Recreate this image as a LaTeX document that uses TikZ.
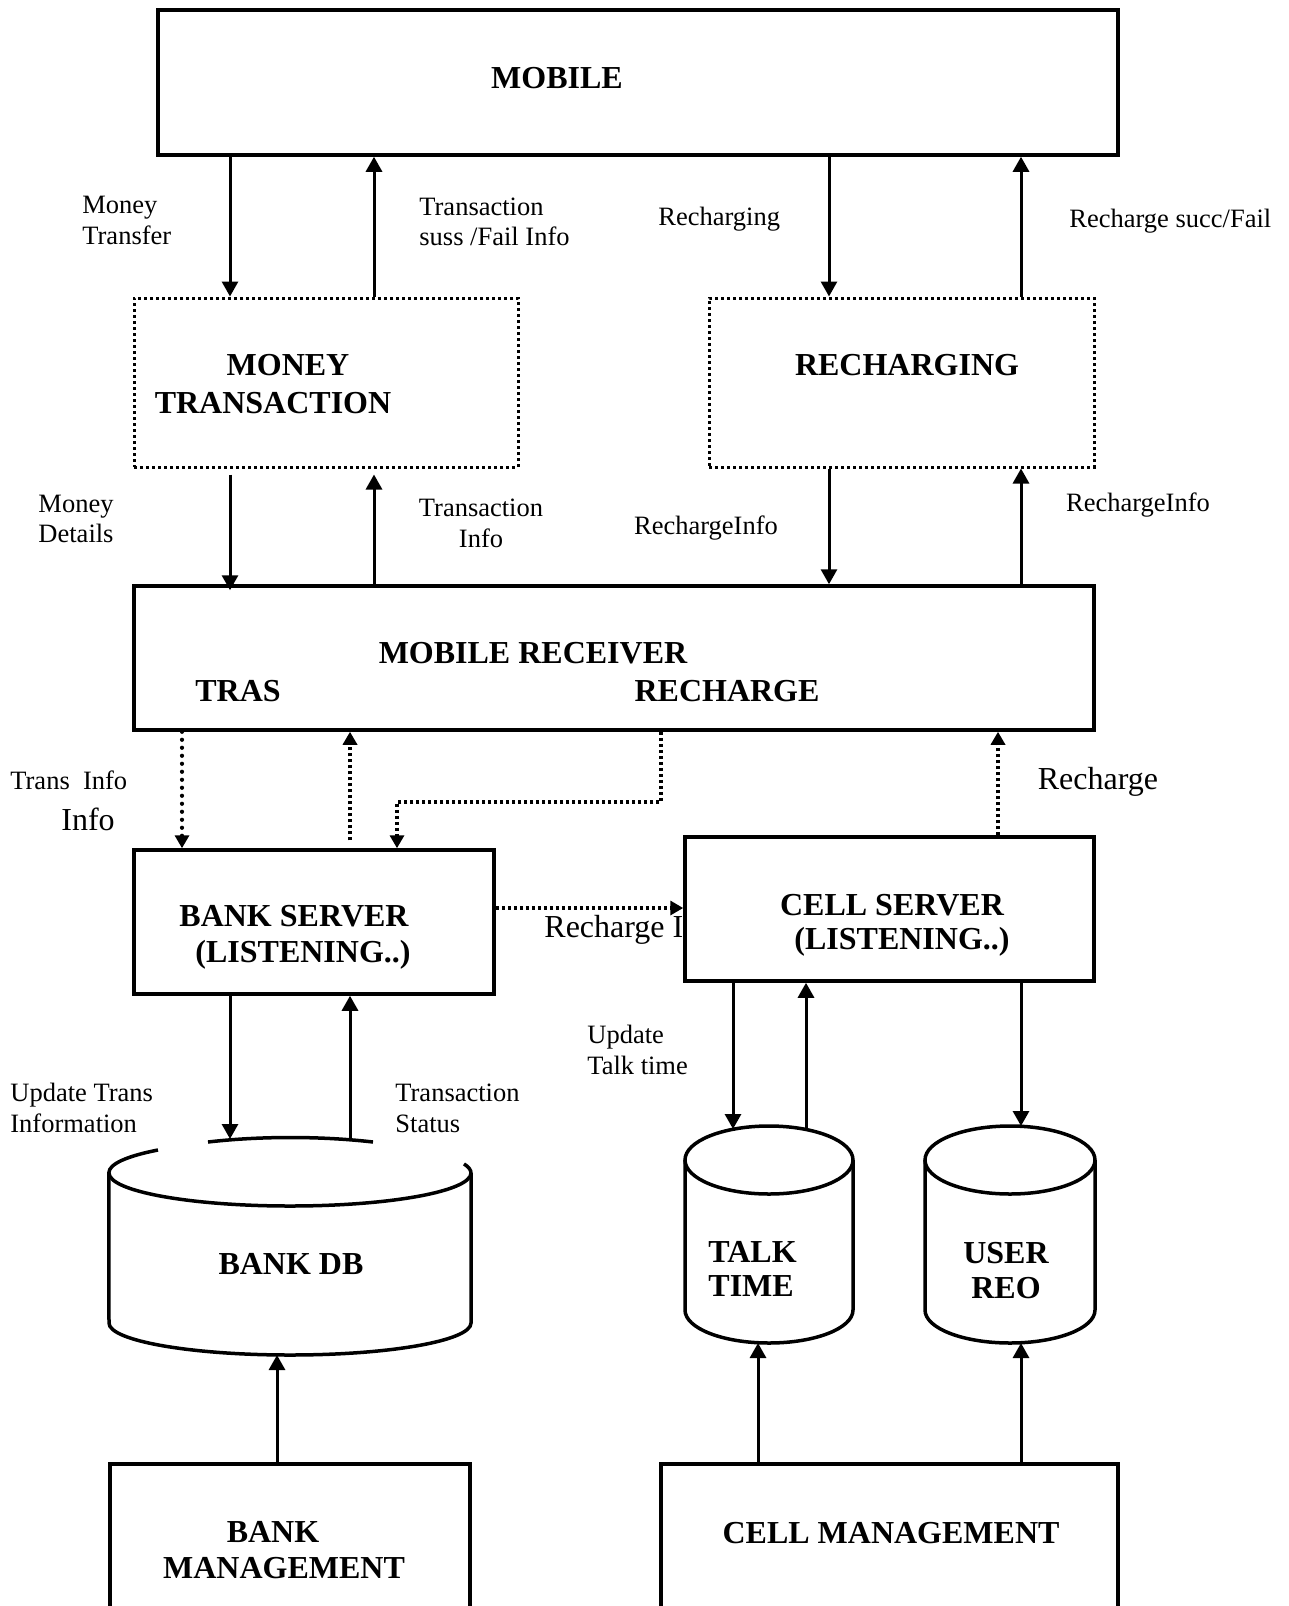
\documentclass[tikz,border=0pt]{standalone}
\usepackage{fontspec}
\setmainfont{Liberation Serif}
\usetikzlibrary{arrows.meta,calc}
\begin{document}
\begin{tikzpicture}[x=0.5pt,y=-0.5pt,
  box/.style={draw, line width=1.75pt, inner sep=0pt, fill=white},
  dbox/.style={draw, line width=1.5pt, dash pattern=on 1.5pt off 1.5pt, inner sep=0pt},
  arr/.style={line width=1.5pt, -{Triangle[length=7.5pt,width=8pt]}},
  darr/.style={line width=1.75pt, dash pattern=on 1.5pt off 1.5pt, -{Triangle[length=6.5pt,width=7pt]}},
  rdarr/.style={line width=2.1pt, line cap=round, dash pattern=on 0pt off 4pt, -{Triangle[length=6.5pt,width=7pt,line join=miter]}},
  cyl/.style={line width=1.75pt},
  btxt/.style={font=\fontsize{16}{19}\selectfont\bfseries, inner sep=0pt, align=center},
  lbl/.style={font=\fontsize{13.25}{15.35}\selectfont, inner sep=0pt, align=left},
  clbl/.style={font=\fontsize{13.25}{15.35}\selectfont, inner sep=0pt, align=center},
  big/.style={font=\fontsize{16}{19}\selectfont, inner sep=0pt}]

\useasboundingbox (0,0) rectangle (1289,1606);
\clip (0,0) rectangle (1289,1606);

% ---- boxes ----
\node[box, minimum width=480pt, minimum height=72.5pt] (mobile) at (638,82.5) {};
\node[dbox, minimum width=192pt, minimum height=84.5pt] (mt) at (326,382.5) {};
\node[dbox, minimum width=192.5pt, minimum height=84.5pt] (rc) at (901.5,382.5) {};
\node[box, minimum width=480pt, minimum height=72pt] (mr) at (614,658) {};
\node[box, minimum width=180pt, minimum height=72pt] (bs) at (314,922) {};
\node[box, minimum width=180pt, minimum height=88pt] (bm) at (290,1552) {};
\node[box, minimum width=228.5pt, minimum height=88pt] (cm) at (889.5,1552) {};

% label partly hidden by cell server
\node[big, anchor=west] (lrcinfo) at (544,930) {Recharge Info};
\node[box, minimum width=204.5pt, minimum height=72pt] (cs) at (889.5,909) {};

% ---- cylinders ----
% bank db
\draw[cyl] (158,1150) arc[start angle=223.2, end angle=180, x radius=181, y radius=33]
  -- (109,1323) arc[start angle=180, end angle=0, x radius=181, y radius=32]
  -- (471,1173) arc[start angle=360, end angle=344, x radius=181, y radius=33];
\draw[cyl] (109,1173) arc[start angle=180, end angle=0, x radius=181, y radius=33];
\draw[cyl] (208,1142) .. controls (260,1136) and (321,1136) .. (373,1142);
% talk time
\draw[cyl] (685,1160) -- (685,1310) arc[start angle=180, end angle=0, x radius=84, y radius=33] -- (853,1160);
\draw[cyl] (769,1160) ellipse[x radius=84, y radius=34];
% user reo
\draw[cyl] (925,1160) -- (925,1310) arc[start angle=180, end angle=0, x radius=85, y radius=33] -- (1095,1160);
\draw[cyl] (1010,1160) ellipse[x radius=85, y radius=34];

% ---- column coordinates ----
\coordinate (xa) at (230,0);
\coordinate (xb) at (374,0);
\coordinate (xc) at (829,0);
\coordinate (xd) at (1021,0);
\coordinate (xe) at (182,0);
\coordinate (xf) at (350,0);
\coordinate (xh) at (397,0);
\coordinate (xi) at (998,0);
\coordinate (xj) at (733,0);
\coordinate (xk) at (806,0);
\coordinate (turn) at (661,802);
\coordinate (yrow) at (0,908);
\coordinate (bdbin) at (230,1139);
\coordinate (bdbout) at (350,1140);
\coordinate (ttin) at (733,1129);
\coordinate (ttout) at (806,1130);
\coordinate (urin) at (1021,1126);
\coordinate (bdbbot) at (277,1355);
\coordinate (ttbot) at (758,1343);
\coordinate (urbot) at (1021,1343);

% ---- connectors ----
\draw[arr] (mobile.south -| xa) -- (mt.north -| xa);
\draw[arr] (mt.north -| xb) -- (mobile.south -| xb);
\draw[arr] (mobile.south -| xc) -- (rc.north -| xc);
\draw[arr] (rc.north -| xd) -- (mobile.south -| xd);
\draw[arr, shorten <=3pt, shorten >=-3pt] (mt.south -| xa) -- (mr.north -| xa);
\draw[arr, shorten >=3pt] (mr.north -| xb) -- (mt.south -| xb);
\draw[arr] (rc.south -| xc) -- (mr.north -| xc);
\draw[arr] (mr.north -| xd) -- (rc.south -| xd);

\draw[rdarr] (mr.south -| xe) -- (bs.north -| xe);
\draw[darr, shorten <=4pt] (bs.north -| xf) -- (mr.south -| xf);
\draw[darr] (mr.south -| turn) -- (turn) -| (bs.north -| xh);
\draw[darr] (bs.east |- yrow) -- (cs.west |- yrow);
\draw[darr] (cs.north -| xi) -- (mr.south -| xi);

\draw[arr] (bs.south -| xa) -- (bdbin);
\draw[arr] (bdbout) -- (bs.south -| xf);
\draw[arr] (cs.south -| xj) -- (ttin);
\draw[arr] (ttout) -- (cs.south -| xk);
\draw[arr] (cs.south -| xd) -- (urin);

\draw[arr] (bm.north -| bdbbot) -- (bdbbot);
\draw[arr] (cm.north -| ttbot) -- (ttbot);
\draw[arr] (cm.north -| urbot) -- (urbot);

% ---- box texts ----
\node[btxt] (tmobile) at (557,78) {MOBILE};
\node[btxt] (tmoney) at (288,365) {MONEY};
\node[btxt] (ttrans) at (273,403) {TRANSACTION};
\node[btxt] (trc) at (907,365) {RECHARGING};
\node[btxt] (tmr) at (533,653) {MOBILE RECEIVER};
\node[btxt] (ttras) at (238,691) {TRAS};
\node[btxt] (trech) at (727,691) {RECHARGE};
\node[btxt] (tbs1) at (294,916) {BANK SERVER};
\node[btxt] (tbs2) at (303,955) {(LISTENING..)};
\node[btxt] (tcs1) at (892,905) {CELL SERVER};
\node[btxt] (tcs2) at (902,942) {(LISTENING..)};
\node[btxt] (tbdb) at (291,1264) {BANK DB};
\node[btxt, align=left, anchor=west, font=\fontsize{16}{17}\selectfont\bfseries] (ttt) at (708,1269) {TALK\\TIME};
\node[btxt, font=\fontsize{16}{17.5}\selectfont\bfseries] (tur) at (1006,1271) {USER\\REO};
\node[btxt] (tbm1) at (273,1532) {BANK};
\node[btxt] (tbm2) at (284,1568) {MANAGEMENT};
\node[btxt] (tcm) at (891,1533) {CELL MANAGEMENT};

% ---- connector labels ----
\node[lbl, anchor=west] (l1) at (82,220.5) {Money\\Transfer};
\node[lbl, anchor=west] (l2) at (419,222) {Transaction\\suss /Fail Info};
\node[lbl, anchor=west] (l3) at (658,219) {Recharging};
\node[lbl, anchor=west] (l4) at (1069,221) {Recharge succ/Fail};
\node[clbl] (l5) at (76,519) {Money\\Details};
\node[clbl] (l6) at (481,523) {Transaction\\Info};
\node[clbl] (l7) at (706,528) {RechargeInfo};
\node[clbl] (l8) at (1138,505) {RechargeInfo};
\node[lbl, anchor=west] (l9) at (10,780) {Trans\ \ Info};
\node[big] (l10) at (88,819) {Info};
\node[big] (l11) at (1098,782) {Recharge};
\node[lbl, anchor=west] (l12) at (587,1050) {Update\\Talk time};
\node[lbl, anchor=west] (l13) at (10,1108) {Update Trans\\Information};
\node[lbl, anchor=west] (l14) at (395,1108) {Transaction\\Status};
\end{tikzpicture}
\end{document}
